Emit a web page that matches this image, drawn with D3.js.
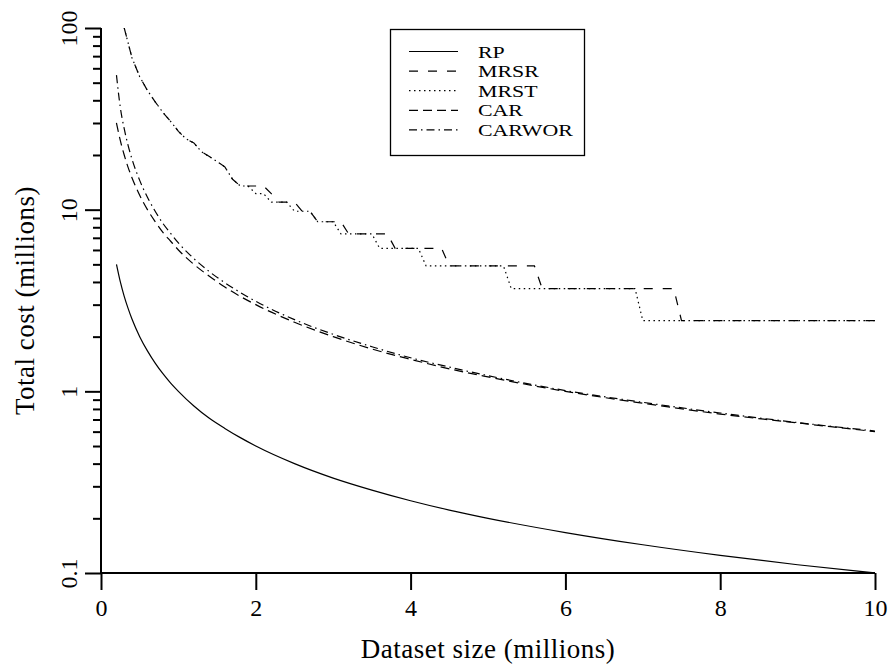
<!DOCTYPE html>
<html>
<head>
<meta charset="utf-8">
<script src="https://cdn.jsdelivr.net/npm/d3@7"></script>
<style>
  body { margin: 0; background: #fff; }
  svg text { font-family: "Liberation Serif", "DejaVu Serif", serif !important; fill: #000; }
</style>
</head>
<body>
<svg id="chart" width="890" height="671"></svg>
<script>
// dataset size (millions) for the smooth curves
const xSmooth = [0.2, 0.25, 0.3, 0.35, 0.4, 0.5, 0.6, 0.7, 0.8, 0.9, 1, 1.2, 1.4, 1.6, 1.8, 2, 2.5, 3, 3.5, 4, 4.5, 5, 6, 7, 8, 9, 10];
const rpCost     = [5, 4, 3.33, 2.86, 2.5, 2, 1.67, 1.43, 1.25, 1.11, 1, 0.83, 0.71, 0.625, 0.556, 0.5, 0.4, 0.333, 0.286, 0.25, 0.222, 0.2, 0.167, 0.143, 0.125, 0.111, 0.1];
const carCost    = [30, 24, 20, 17.1, 15, 12, 10, 8.6, 7.5, 6.7, 6, 5, 4.3, 3.75, 3.33, 3, 2.4, 2, 1.71, 1.5, 1.33, 1.2, 1, 0.86, 0.75, 0.67, 0.6];
const carworCost = [55, 36.4, 27.9, 22.6, 19, 14.5, 11.7, 9.8, 8.4, 7.4, 6.56, 5.38, 4.56, 3.96, 3.5, 3.13, 2.48, 2.06, 1.76, 1.53, 1.36, 1.22, 1.01, 0.87, 0.76, 0.673, 0.605];

// staircase curves (levels)
const xMrst    = [0.3, 0.4, 0.5, 0.6, 0.7, 0.8, 0.9, 1, 1.1, 1.2, 1.3, 1.4, 1.5, 1.6, 1.7, 1.8, 1.9, 2, 2.1, 2.2, 2.4, 2.5, 2.7, 2.8, 3, 3.1, 3.5, 3.6, 4.1, 4.2, 5.2, 5.3, 6.9, 7, 10];
const mrstCost = [100, 68.6, 53.9, 45.3, 39.2, 34.3, 30.6, 27, 24.5, 23.3, 20.8, 19.6, 18.4, 17.2, 14.7, 13.5, 13.5, 12.25, 12.25, 11, 11, 9.8, 9.8, 8.58, 8.58, 7.35, 7.35, 6.13, 6.13, 4.9, 4.9, 3.68, 3.68, 2.45, 2.45];
const xMrsr    = [0.3, 0.4, 0.5, 0.6, 0.7, 0.8, 0.9, 1, 1.1, 1.2, 1.3, 1.4, 1.5, 1.6, 1.7, 1.8, 1.9, 2, 2.1, 2.2, 2.3, 2.5, 2.6, 2.7, 2.8, 3.1, 3.2, 3.7, 3.8, 4.4, 4.5, 5.6, 5.7, 7.4, 7.5, 10];
const mrsrCost = [100, 68.6, 53.9, 45.3, 39.2, 34.3, 30.6, 27, 24.5, 23.3, 20.8, 19.6, 18.4, 17.2, 14.7, 13.5, 13.5, 13.5, 13.5, 12.25, 11, 11, 9.8, 9.8, 8.58, 8.58, 7.35, 7.35, 6.13, 6.13, 4.9, 4.9, 3.68, 3.68, 2.45, 2.45];

const xTicks = [0, 2, 4, 6, 8, 10];
const yTicks = [0.1, 1, 10, 100];
const yMinor = [0.2, 0.3, 0.4, 0.5, 0.6, 0.7, 0.8, 0.9, 2, 3, 4, 5, 6, 7, 8, 9, 20, 30, 40, 50, 60, 70, 80, 90];

const FONT = '"Liberation Serif", "DejaVu Serif", serif';
const svg = d3.select('#chart');

const mLeft = 101, mRight = 875, mTop = 28, mBottom = 573;
const x = d3.scaleLinear().domain([0, 10]).range([mLeft, mRight]);
const y = d3.scaleLog().domain([0.1, 100]).range([mBottom, mTop]);

svg.append('defs').append('clipPath').attr('id', 'plot')
	.append('rect').attr('x', mLeft).attr('y', mTop).attr('width', mRight - mLeft).attr('height', mBottom - mTop);

// series: name, x array, y array, dash pattern, smooth or not
const series = [
	{name: 'RP',     xs: xSmooth, ys: rpCost,     dash: null,        smooth: true},
	{name: 'MRSR',   xs: xMrsr,   ys: mrsrCost,   dash: '9,10',      smooth: false},
	{name: 'MRST',   xs: xMrst,   ys: mrstCost,   dash: '1.5,3.5',   smooth: false},
	{name: 'CAR',    xs: xSmooth, ys: carCost,    dash: '9,5',       smooth: true},
	{name: 'CARWOR', xs: xSmooth, ys: carworCost, dash: '8,4,1.5,4', smooth: true}
];

const g = svg.append('g').attr('clip-path', 'url(#plot)');
series.forEach(s => {
	const pts = s.xs.map((v, i) => [v, s.ys[i]]);
	const line = d3.line()
		.x(d => x(d[0]))
		.y(d => y(d[1]))
		.curve(s.smooth ? d3.curveMonotoneX : d3.curveLinear);
	g.append('path')
		.datum(pts)
		.attr('d', line)
		.attr('fill', 'none')
		.attr('stroke', '#000')
		.attr('stroke-width', 1.2)
		.attr('stroke-dasharray', s.dash);
});

// x axis
const xAxis = svg.append('g').attr('transform', 'translate(0,' + mBottom + ')')
	.call(d3.axisBottom(x).tickValues(xTicks).tickSize(17).tickFormat(d3.format('d')));
xAxis.attr('font-family', FONT);
xAxis.select('.domain').attr('stroke-width', 2).attr('d', 'M' + mLeft + ',0H' + mRight);
xAxis.selectAll('.tick line').attr('stroke-width', 2);
xAxis.selectAll('.tick text').attr('y', 43).attr('dy', 0).attr('font-size', 24);

// y axis, minor ticks first
svg.append('g').attr('transform', 'translate(' + mLeft + ',0)')
	.call(d3.axisLeft(y).tickValues(yMinor).tickSize(8).tickFormat(''))
	.call(a => a.select('.domain').remove())
	.selectAll('.tick line').attr('stroke-width', 2);

const yAxis = svg.append('g').attr('transform', 'translate(' + mLeft + ',0)')
	.call(d3.axisLeft(y).tickValues(yTicks).tickSize(16).tickFormat(d => String(d)));
yAxis.attr('font-family', FONT);
yAxis.select('.domain').attr('stroke-width', 2).attr('d', 'M0,' + mTop + 'V' + mBottom);
yAxis.selectAll('.tick line').attr('stroke-width', 2);
yAxis.selectAll('.tick text')
	.attr('transform', 'rotate(-90)')
	.attr('x', 0).attr('y', -24).attr('dy', 0)
	.attr('text-anchor', 'middle')
	.attr('font-size', 24);

// axis titles
svg.append('text')
	.attr('x', (mLeft + mRight) / 2).attr('y', 658)
	.attr('text-anchor', 'middle')
	.attr('font-family', FONT)
	.attr('font-size', 27)
	.attr('letter-spacing', 0.5)
	.text('Dataset size (millions)');
svg.append('text')
	.attr('transform', 'translate(34,' + ((mTop + mBottom) / 2) + ') rotate(-90)')
	.attr('text-anchor', 'middle')
	.attr('font-family', FONT)
	.attr('font-size', 27)
	.attr('letter-spacing', 0.5)
	.text('Total cost (millions)');

// legend
const legend = svg.append('g');
legend.append('rect')
	.attr('x', 390.5).attr('y', 29.5).attr('width', 194).attr('height', 126)
	.attr('fill', '#fff').attr('stroke', '#000').attr('stroke-width', 1.3);
series.forEach((s, i) => {
	const ly = 51.5 + i * 19.6;
	legend.append('line')
		.attr('x1', 409).attr('x2', 458).attr('y1', ly).attr('y2', ly)
		.attr('stroke', '#000').attr('stroke-width', 1.2)
		.attr('stroke-dasharray', s.dash);
	// slightly widened glyphs so the narrow font fills the same width
	legend.append('text')
		.attr('transform', 'translate(478,' + ly + ') scale(1.25,1)')
		.attr('dy', '0.35em')
		.attr('font-family', FONT)
		.attr('font-size', 17.5)
		.text(s.name);
});
</script>
</body>
</html>
